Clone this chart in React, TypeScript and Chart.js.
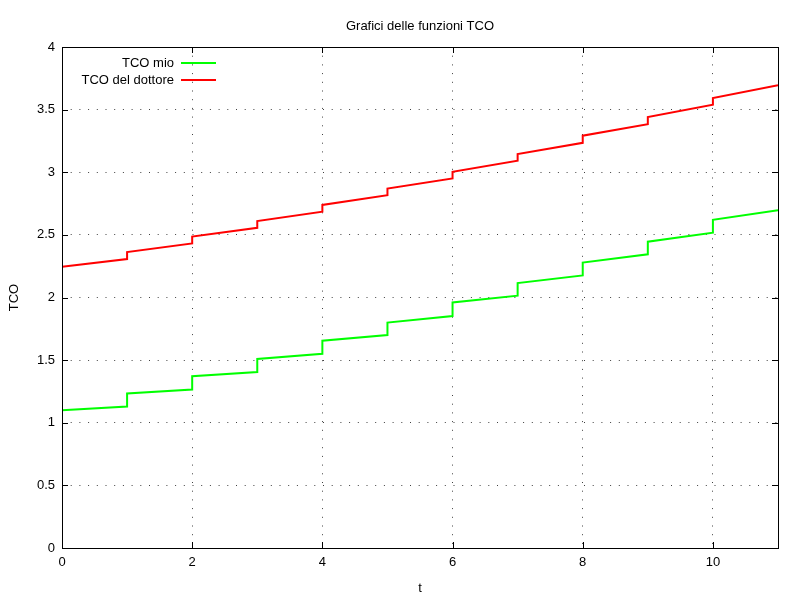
import { useRef, useEffect } from "react";
import { Chart, registerables } from "chart.js";

Chart.register(...registerables);

// Chart data (t = years, value before and after the yearly jump)
const times = [0, 1, 2, 3, 4, 5, 6, 7, 8, 9, 10, 11];
const mioBefore = [1.1, 1.13, 1.265, 1.405, 1.55, 1.7, 1.852, 2.015, 2.176, 2.345, 2.518, 2.697];
const mioAfter = [1.1, 1.234, 1.371, 1.509, 1.655, 1.8, 1.96, 2.115, 2.279, 2.446, 2.62, 2.697];
const dottoreBefore = [2.245, 2.307, 2.432, 2.556, 2.685, 2.817, 2.95, 3.092, 3.235, 3.384, 3.539, 3.695];
const dottoreAfter = [2.245, 2.363, 2.487, 2.61, 2.739, 2.87, 3.003, 3.145, 3.292, 3.44, 3.593, 3.695];
const seriesLabels = ["TCO mio", "TCO del dottore"];

const FONT = '"Liberation Sans", Arial, sans-serif';
const FONT_SIZE = 13;

function stepPoints(before: number[], after: number[]) {
  const pts: { x: number; y: number }[] = [];
  times.forEach((t, i) => {
    pts.push({ x: t, y: before[i] });
    if (after[i] !== before[i]) pts.push({ x: t, y: after[i] });
  });
  return pts;
}

// Border box, inward ticks on all four sides, and a gnuplot-style key
const framePlugin = {
  id: "frame",
  afterDraw(chart: Chart) {
    const { ctx, chartArea } = chart;
    const { left, right, top, bottom } = chartArea;
    const xs = chart.scales.x;
    const ys = chart.scales.y;
    ctx.save();
    ctx.strokeStyle = "#000";
    ctx.lineWidth = 1;
    ctx.setLineDash([]);
    ctx.beginPath();
    xs.ticks.forEach((tk) => {
      const px = Math.round(xs.getPixelForValue(tk.value)) + 0.5;
      ctx.moveTo(px, bottom);
      ctx.lineTo(px, bottom - 6);
      ctx.moveTo(px, top);
      ctx.lineTo(px, top + 6);
    });
    ys.ticks.forEach((tk) => {
      const py = Math.round(ys.getPixelForValue(tk.value)) + 0.5;
      ctx.moveTo(left, py);
      ctx.lineTo(left + 6, py);
      ctx.moveTo(right, py);
      ctx.lineTo(right - 6, py);
    });
    ctx.stroke();
    ctx.strokeRect(Math.round(left) + 0.5, Math.round(top) + 0.5, Math.round(right - left), Math.round(bottom - top));

    // key
    ctx.font = FONT_SIZE + "px " + FONT;
    ctx.fillStyle = "#000";
    ctx.textAlign = "right";
    ctx.textBaseline = "middle";
    chart.data.datasets.forEach((ds, i) => {
      const y = top + 16 + i * 17;
      ctx.fillText(String(ds.label), left + 112, y);
      ctx.strokeStyle = ds.borderColor as string;
      ctx.lineWidth = 2;
      ctx.beginPath();
      ctx.moveTo(left + 119, y);
      ctx.lineTo(left + 154, y);
      ctx.stroke();
    });
    ctx.restore();
  },
};

export default function App() {
  const canvasRef = useRef<HTMLCanvasElement | null>(null);
  const chartRef = useRef<Chart | null>(null);

  useEffect(() => {
    if (chartRef.current) {
      chartRef.current.destroy();
      chartRef.current = null;
    }
    const canvas = canvasRef.current;
    if (!canvas) return;

    const gridOpts = {
      color: "rgba(0,0,0,0.75)",
      lineWidth: 1,
      drawTicks: false,
    };
    const borderOpts = { display: false, dash: [1, 7.7] };

    chartRef.current = new Chart(canvas, {
      type: "line",
      data: {
        datasets: [
          {
            label: seriesLabels[0],
            data: stepPoints(mioBefore, mioAfter),
            borderColor: "#00ff00",
            borderWidth: 2,
            pointRadius: 0,
            tension: 0,
          },
          {
            label: seriesLabels[1],
            data: stepPoints(dottoreBefore, dottoreAfter),
            borderColor: "#ff0000",
            borderWidth: 2,
            pointRadius: 0,
            tension: 0,
          },
        ],
      },
      options: {
        responsive: false,
        animation: false,
        devicePixelRatio: 1,
        layout: { padding: { left: 0, right: 22, top: 0, bottom: 0 } },
        plugins: {
          legend: { display: false },
          tooltip: { enabled: false },
          title: {
            display: true,
            text: "Grafici delle funzioni TCO",
            fullSize: false,
            color: "#000",
            font: { family: FONT, size: FONT_SIZE, weight: "normal" },
            padding: { top: 18.7, bottom: 12.7 },
          },
        },
        scales: {
          x: {
            type: "linear",
            min: 0,
            max: 11,
            grid: gridOpts,
            border: borderOpts,
            ticks: {
              stepSize: 2,
              includeBounds: false,
              color: "#000",
              padding: 7,
              maxRotation: 0,
              font: { family: FONT, size: FONT_SIZE },
            },
            title: {
              display: true,
              text: "t",
              color: "#000",
              font: { family: FONT, size: FONT_SIZE },
              padding: { top: 0, bottom: 4 },
            },
            afterFit(scale) {
              scale.height = 52;
            },
          },
          y: {
            min: 0,
            max: 4,
            grid: gridOpts,
            border: borderOpts,
            ticks: {
              stepSize: 0.5,
              color: "#000",
              padding: 7,
              font: { family: FONT, size: FONT_SIZE },
              callback: (v) => String(v),
            },
            title: {
              display: true,
              text: "TCO",
              color: "#000",
              font: { family: FONT, size: FONT_SIZE },
              padding: { top: 7, bottom: 0 },
            },
            afterFit(scale) {
              scale.width = 62;
            },
          },
        },
      },
      plugins: [framePlugin],
    });

    return () => {
      chartRef.current?.destroy();
      chartRef.current = null;
    };
  }, []);

  return (
    <div style={{ position: "fixed", left: 0, top: 0, width: 800, height: 600, background: "#fff" }}>
      <canvas ref={canvasRef} width={800} height={600} />
    </div>
  );
}
